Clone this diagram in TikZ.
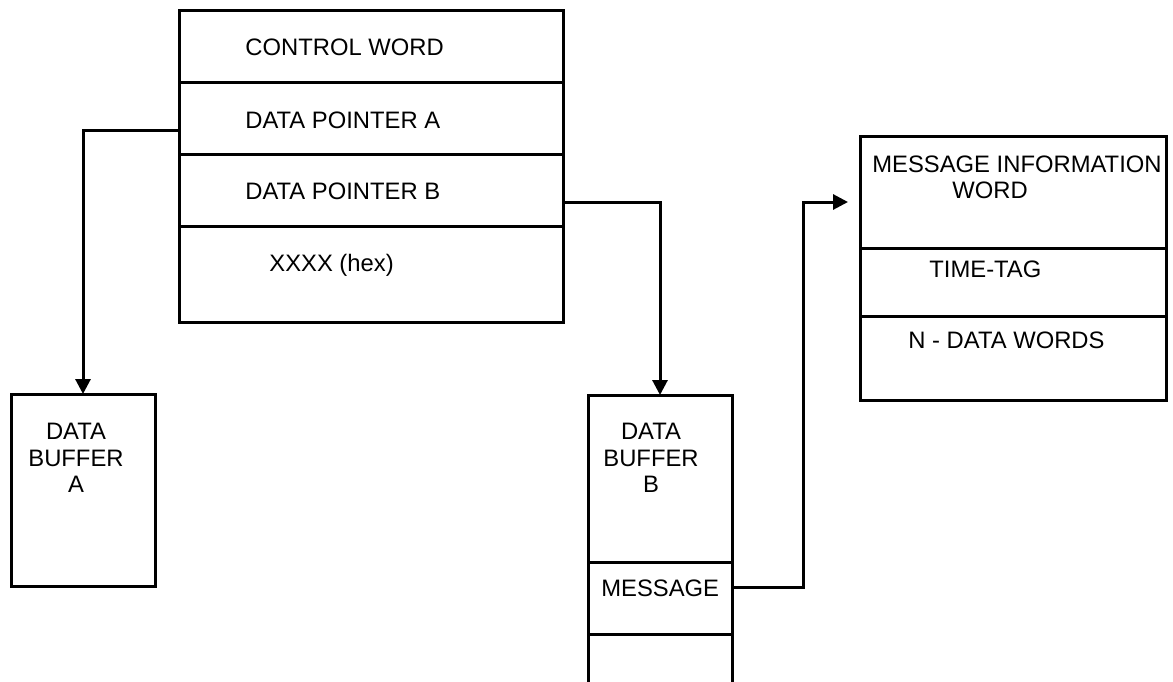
\documentclass[tikz,border=0pt]{standalone}
\usepackage{fontspec}
\setmainfont{Liberation Sans}
\usetikzlibrary{arrows.meta}
\begin{document}
\begin{tikzpicture}[x=0.5pt,y=-0.5pt,
  box/.style={draw,line width=1.5pt,inner sep=0pt,outer sep=0pt,minimum width=#1},
  lbl/.style={inner sep=0pt,anchor=base west,font=\fontsize{11.9}{13.25}\selectfont},
  mlbl/.style={inner sep=0pt,anchor=north,align=center,font=\fontsize{11.9}{13.25}\selectfont},
  wire/.style={line width=1.5pt},
  arr/.style={wire,-{Triangle[width=7.5pt,length=7.5pt]}}]
\useasboundingbox (0,0) rectangle (1173,681);
% top table
\node[box=192pt,minimum height=36pt] (cw) at (371,46) {};
\node[box=192pt,minimum height=36pt] (pa) at (371,118) {};
\node[box=192pt,minimum height=36pt] (pb) at (371,190) {};
\node[box=192pt,minimum height=48pt] (hex) at (371,274) {};
\node[lbl] (tcw) at (245,55) {CONTROL WORD};
\node[lbl] (tpa) at (245,128) {DATA POINTER A};
\node[lbl] (tpb) at (245,199) {DATA POINTER B};
\node[lbl] (thex) at (269,271) {XXXX (hex)};
% buffer A
\node[box=72pt,minimum height=96pt] (bufA) at (83,490) {};
\node[mlbl] (tbufA) at (76,423) {DATA\\BUFFER\\A};
% buffer B
\node[box=72pt,minimum height=83.5pt] (bufB) at (660,478.5) {};
\node[box=72pt,minimum height=36pt] (msg) at (660,598) {};
\node[mlbl] (tbufB) at (651,423) {DATA\\BUFFER\\B};
\node[lbl] (tmsg) at (601,596) {MESSAGE};
\coordinate (bbl) at (588,684);
\coordinate (bbr) at (732,684);
\draw[wire] (msg.south west) -- (bbl);
\draw[wire] (msg.south east) -- (bbr);
% message information
\node[box=153pt,minimum height=56pt] (miw) at (1013,192) {};
\node[box=153pt,minimum height=34pt] (tt) at (1013,282) {};
\node[box=153pt,minimum height=42pt] (nd) at (1013,358) {};
\node[lbl] (tmiw1) at (872,172) {MESSAGE INFORMATION};
\node[lbl] (tmiw2) at (952,198) {WORD};
\node[lbl] (ttt) at (929,277) {TIME-TAG};
\node[lbl] (tnd) at (908,348) {N - DATA WORDS};
% connectors
\draw[arr] ([yshift=-6pt]pa.west) -| (bufA.north);
\draw[arr] ([yshift=-6pt]pb.east) -| (bufB.north);
\coordinate (j) at (803,202);
\draw[arr] ([yshift=5.5pt]msg.east) -| (j) -- ([xshift=-6pt,yshift=-5pt]miw.west);
\end{tikzpicture}
\end{document}
